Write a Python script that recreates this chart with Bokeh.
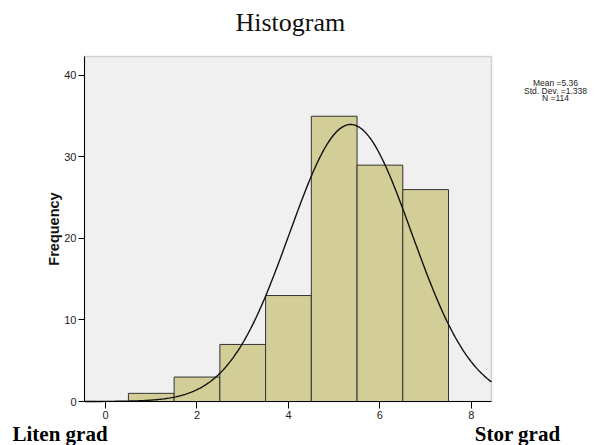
import numpy as np
from bokeh.plotting import figure
from bokeh.models import Range1d, FixedTicker, LinearAxis, BoxAnnotation, Label
from bokeh.embed import file_html
from bokeh.resources import INLINE

# Data
bin_left = [0.5, 1.5, 2.5, 3.5, 4.5, 5.5, 6.5]
bin_right = [1.5, 2.5, 3.5, 4.5, 5.5, 6.5, 7.5]
counts = [1, 3, 7, 13, 35, 29, 26]
mean_val = 5.36
std_dev = 1.338
n_obs = 114
bin_width = 1.0
x_ticks = [0, 2, 4, 6, 8]
y_ticks = [0, 10, 20, 30, 40]
title_text = "Histogram"
stats_lines = ["Mean =5.36", "Std. Dev. =1.338", "N =114"]
bottom_left_text = "Liten grad"
bottom_right_text = "Stor grad"

# axis extents (data) and where the plot box sits on the canvas (pixels)
X0, X1, Y0, Y1 = -0.46, 8.44, 0.0, 42.33
W, H = 603, 445
BOX_L, BOX_R, BOX_T, BOX_B = 84, 491, 56, 401

sx = (X1 - X0) / (BOX_R - BOX_L)
sy = (Y1 - Y0) / (BOX_B - BOX_T)

def dx(px):
    return X0 + (px - BOX_L) * sx

def dy(py):
    return Y0 + (BOX_B - py) * sy

p = figure(width=W, height=H, output_backend="svg", toolbar_location=None,
           x_range=Range1d(dx(0), dx(W)), y_range=Range1d(dy(H), dy(0)),
           min_border=0, min_border_left=0, min_border_right=0,
           min_border_top=0, min_border_bottom=0, title=None,
           x_axis_location=None, y_axis_location=None)
p.outline_line_color = None
p.background_fill_color = "white"
p.border_fill_color = "white"
p.grid.visible = False

box = BoxAnnotation(left=X0, right=X1, bottom=Y0, top=Y1, fill_color="#f0f0f0",
                    fill_alpha=1, line_color="#7a7a7a", line_width=1.5, level="underlay")
p.add_layout(box)

p.quad(left=bin_left, right=bin_right, bottom=0, top=counts,
       fill_color="#d3ce98", line_color="#333333", line_width=1)

xs = np.linspace(X0, X1, 300)
ys = n_obs * bin_width * np.exp(-0.5 * ((xs - mean_val) / std_dev) ** 2) / (std_dev * np.sqrt(2 * np.pi))
p.line(xs, ys, line_color="#111111", line_width=1.4)

xaxis = LinearAxis(ticker=FixedTicker(ticks=x_ticks), fixed_location=Y0, bounds=(X0, X1))
yaxis = LinearAxis(ticker=FixedTicker(ticks=y_ticks), fixed_location=X0, bounds=(Y0, Y1))
for ax in (xaxis, yaxis):
    ax.axis_line_color = "black"
    ax.axis_line_width = 1
    ax.major_tick_line_color = "black"
    ax.major_tick_in = 0
    ax.minor_tick_line_color = None
    ax.major_label_text_font = "Liberation Sans"
    ax.major_label_text_font_size = "11px"
    ax.major_label_text_color = "#222222"
    ax.major_label_standoff = 2
xaxis.major_tick_out = 7
yaxis.major_tick_out = 6
yaxis.axis_label = "Frequency"
yaxis.axis_label_text_font = "Liberation Sans"
yaxis.axis_label_text_font_style = "bold"
yaxis.axis_label_text_font_size = "14.5px"
yaxis.axis_label_text_color = "#111111"
yaxis.axis_label_standoff = -1
p.add_layout(xaxis, "below")
p.add_layout(yaxis, "left")

p.add_layout(Label(x=dx(235), y=dy(22), text=title_text, text_font="Liberation Serif",
                   text_font_size="26px", text_align="left", text_baseline="alphabetic",
                   text_color="#111111"))
p.add_layout(Label(x=dx(12), y=dy(433), text=bottom_left_text, text_font="Liberation Serif",
                   text_font_size="21px", text_font_style="bold", text_align="left",
                   text_baseline="alphabetic", text_color="black"))
p.add_layout(Label(x=dx(560), y=dy(433), text=bottom_right_text, text_font="Liberation Serif",
                   text_font_size="21px", text_font_style="bold", text_align="right",
                   text_baseline="alphabetic", text_color="black"))
for i, s in enumerate(stats_lines):
    p.add_layout(Label(x=dx(555), y=dy(82.5 + 7.5 * i), text=s, text_font="Liberation Sans",
                       text_font_size="8.5px", text_align="center", text_baseline="middle",
                       text_color="#222222"))

open("out.html", "w").write(file_html(p, INLINE))
